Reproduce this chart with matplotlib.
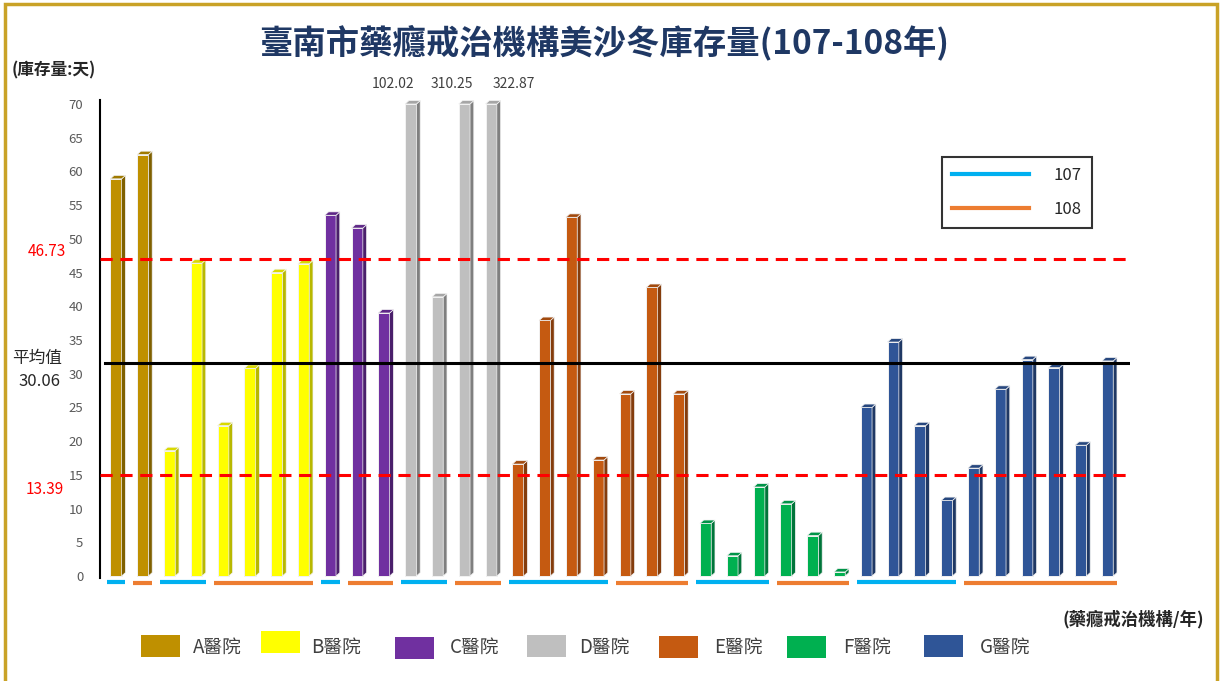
import matplotlib
matplotlib.use("Agg")
import matplotlib.pyplot as plt
from matplotlib.patches import Polygon, Rectangle
from matplotlib.lines import Line2D
import numpy as np

plt.rcParams['font.family'] = ['Noto Sans CJK TC', 'DejaVu Sans']

# ---------------- data ----------------
hospitals = ["A醫院", "B醫院", "C醫院", "D醫院", "E醫院", "F醫院", "G醫院"]
n_107 = [1, 2, 1, 2, 4, 3, 4]   # number of bars in 107 per hospital
n_108 = [1, 4, 2, 2, 3, 3, 6]   # number of bars in 108 per hospital
values_A = [58.9, 62.5]
values_B = [18.6, 46.4, 22.3, 30.8, 45.0, 46.3]
values_C = [53.5, 51.6, 39.0]
values_D = [102.02, 41.4, 310.25, 322.87]
values_E = [16.6, 37.9, 53.2, 17.2, 27.0, 42.8, 27.0]
values_F = [7.8, 3.0, 13.2, 10.7, 6.0, 0.6]
values_G = [25.0, 34.7, 22.3, 11.2, 16.0, 27.7, 32.1, 30.9, 19.4, 31.9]
yticks = [0, 5, 10, 15, 20, 25, 30, 35, 40, 45, 50, 55, 60, 65, 70]
ymax_shown = 70
upper_label, mean_label, lower_label = "46.73", "30.06", "13.39"
upper_line, mean_line, lower_line = 47.0, 31.6, 15.0
year_labels = ["107", "108"]

colors_front = ["#BF9000", "#FFFF00", "#7030A0", "#BFBFBF", "#C55A11", "#00B050", "#2F5597"]
colors_side = ["#7F6000", "#B8B800", "#4A1F6B", "#7F7F7F", "#843C0C", "#00753A", "#1F3864"]
colors_top = ["#A07A00", "#D9D900", "#5E2787", "#A6A6A6", "#A24A0E", "#009448", "#27477E"]
c107, c108 = "#00B0F0", "#ED7D31"

all_values = [values_A, values_B, values_C, values_D, values_E, values_F, values_G]

# ---------------- figure ----------------
W, H = 1222, 681
fig = plt.figure(figsize=(W / 100, H / 100), dpi=100)

def fx(px):
    return px / W

def fy(py):
    return 1 - py / H

ylo, yhi = -0.3, 70.6
ax_left_px, ax_right_px = 100, 1130
ax_top_px = 576 - yhi * 6.743
ax_bot_px = 576 - ylo * 6.743
ax = fig.add_axes([fx(ax_left_px), fy(ax_bot_px), (ax_right_px - ax_left_px) / W,
                   (ax_bot_px - ax_top_px) / H])
spacing = 26.8
xlo = (ax_left_px - 116) / spacing
xhi = (ax_right_px - 116) / spacing
ax.set_xlim(xlo, xhi)
ax.set_ylim(ylo, yhi)

for s in ["top", "right", "bottom"]:
    ax.spines[s].set_visible(False)
ax.spines["left"].set_color("black")
ax.spines["left"].set_linewidth(1.5)
ax.set_xticks([])
ax.set_yticks(yticks)
ax.set_yticklabels([str(t) for t in yticks], color="#595959", fontsize=9.5)
ax.tick_params(axis="y", length=0, pad=12)

# ---------------- bars ----------------
bw = 0.42
dx, dy = 0.14, 0.5
idx = 0
for g, vals in enumerate(all_values):
    xs = np.arange(idx, idx + len(vals))
    hs = np.minimum(vals, ymax_shown)
    ax.bar(xs, hs, width=bw, color=colors_front[g], edgecolor="#F2F2F2",
           linewidth=0.7, zorder=3, clip_on=False)
    for x, h in zip(xs, hs):
        side = Polygon([(x + bw / 2, 0), (x + bw / 2 + dx, dy), (x + bw / 2 + dx, h + dy),
                        (x + bw / 2, h)], closed=True, facecolor=colors_side[g],
                       edgecolor="#F2F2F2", linewidth=0.5, zorder=3, clip_on=False)
        top = Polygon([(x - bw / 2, h), (x - bw / 2 + dx, h + dy), (x + bw / 2 + dx, h + dy),
                       (x + bw / 2, h)], closed=True, facecolor=colors_top[g],
                      edgecolor="#F2F2F2", linewidth=0.5, zorder=3, clip_on=False)
        ax.add_patch(side)
        ax.add_patch(top)
    # values beyond the axis range
    offs = {0: -13, 2: -9, 3: 16}
    for k, (x, v) in enumerate(zip(xs, vals)):
        if v > ymax_shown:
            ax.annotate(f"{v:.2f}", (x, ymax_shown), xytext=(offs.get(k, 0), 9),
                        textcoords="offset points", ha="center", va="bottom",
                        fontsize=10, color="#404040", annotation_clip=False)
    # year segments
    s107 = idx
    e107 = idx + n_107[g] - 1
    s108 = e107 + 1
    e108 = s108 + n_108[g] - 1
    ax.plot([s107 - 0.35, e107 + 0.35], [-0.85, -0.85], color=c107, lw=3,
            solid_capstyle="butt", clip_on=False, zorder=4)
    ax.plot([s108 - 0.35, e108 + 0.35], [-1.0, -1.0], color=c108, lw=3,
            solid_capstyle="butt", clip_on=False, zorder=4)
    idx += len(vals)

# ---------------- reference lines ----------------
ax.axhline(upper_line, color="#FF0000", lw=2.2, ls=(0, (4, 2.5)), zorder=5)
ax.axhline(lower_line, color="#FF0000", lw=2.2, ls=(0, (4, 2.5)), zorder=5)
ax.plot([xlo + 0.2, xhi], [mean_line, mean_line], color="black", lw=2.2, zorder=5)

fig.text(fx(47), fy(252), upper_label, color="#FF0000", fontsize=11, ha="center", va="center")
fig.text(fx(45), fy(490), lower_label, color="#FF0000", fontsize=11, ha="center", va="center")
fig.text(fx(37), fy(358), "平均值", color="#262626", fontsize=12, ha="center", va="center")
fig.text(fx(39), fy(381), mean_label, color="#262626", fontsize=12, ha="center", va="center")

# ---------------- texts ----------------
fig.text(fx(604), fy(42), "臺南市藥癮戒治機構美沙冬庫存量(107-108年)", color="#1F3864",
         fontsize=24, fontweight="bold", ha="center", va="center")
fig.text(fx(12), fy(70), "(庫存量:天)", color="#262626", fontsize=12,
         fontweight="bold", ha="left", va="center")
fig.text(fx(1204), fy(619), "(藥癮戒治機構/年)", color="#262626", fontsize=12.5,
         fontweight="bold", ha="right", va="center")

# year legend
handles = [Line2D([], [], color=c107, lw=3), Line2D([], [], color=c108, lw=3)]
leg = ax.legend(handles, year_labels, loc="upper left",
                bbox_to_anchor=(fx(942), fy(157)), bbox_transform=fig.transFigure,
                fontsize=12, frameon=True, fancybox=False, handlelength=4.6,
                handletextpad=1.5, labelspacing=1.0, borderpad=0.6, borderaxespad=0)
leg.get_frame().set_edgecolor("black")
leg.get_frame().set_linewidth(1.5)
for t in leg.get_texts():
    t.set_color("#262626")

# hospital legend
sq_x = [141, 261, 395, 527, 659, 787, 924]
sq_y = [646, 642, 648, 646, 647, 647, 646]
tx_x = [193, 311, 450, 579, 714, 843, 980]
for i, name in enumerate(hospitals):
    fig.patches.append(Rectangle((fx(sq_x[i]), fy(sq_y[i] + 11)), 39 / W, 22 / H,
                                 transform=fig.transFigure, facecolor=colors_front[i],
                                 edgecolor="none"))
    fig.text(fx(tx_x[i]), fy(647), name, fontsize=13.5, color="#404040",
             ha="left", va="center")

# border
fig.patches.append(Rectangle((fx(5), -0.05), (1217 - 5) / W, fy(4) + 0.05,
                             transform=fig.transFigure, fill=False,
                             edgecolor="#C9A227", linewidth=2.5))

fig.savefig("out.png", dpi=100)
